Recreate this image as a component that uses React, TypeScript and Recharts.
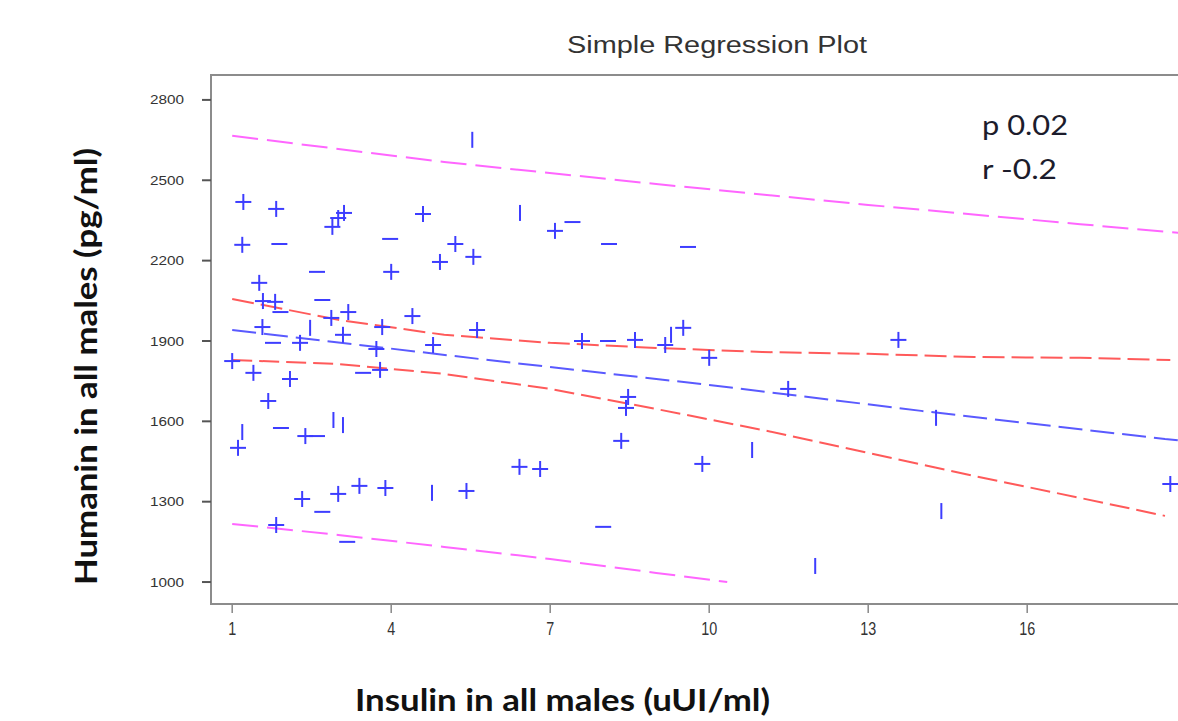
import React from 'react';
import { ComposedChart, XAxis, YAxis, Line, Scatter, ReferenceArea, Customized } from 'recharts';

// ---- axis ticks ----
const xTicks = [1, 4, 7, 10, 13, 16, 19];
const yTicks = [1000, 1300, 1600, 1900, 2200, 2500, 2800];

// ---- observations (insulin, humanin) ----
const plusPoints: [number, number][] = [
  [1.21, 2419], [1.83, 2393], [3.11, 2378], [3.0, 2359], [2.89, 2326], [4.6, 2374],
  [1.19, 2259], [5.21, 2262], [4.92, 2195], [5.55, 2214], [4.0, 2158], [1.51, 2117],
  [1.58, 2049], [1.81, 2046], [2.87, 1986], [3.19, 2008], [4.4, 1993], [3.83, 1952],
  [1.57, 1952], [3.09, 1923], [2.28, 1893], [3.72, 1870], [4.79, 1885], [5.62, 1941],
  [1.0, 1825], [1.4, 1781], [2.09, 1758], [1.68, 1676], [1.11, 1501], [2.38, 1545],
  [2.32, 1310], [3.0, 1329], [3.4, 1359], [3.89, 1351], [5.42, 1340], [1.83, 1213],
  [3.79, 1792], [7.6, 1900], [8.6, 1904], [9.17, 1885], [9.51, 1949], [10.0, 1837],
  [7.09, 2311], [8.47, 1691], [8.43, 1650], [8.34, 1527], [6.42, 1430], [6.81, 1422],
  [9.87, 1441], [11.49, 1721], [13.57, 1904], [18.7, 1366],
];
const dashPoints: [number, number][] = [
  [3.98, 2281], [1.89, 2262], [2.6, 2158], [2.7, 2053], [1.91, 2008], [1.77, 1893],
  [1.92, 1575], [2.6, 1545], [2.7, 1262], [3.17, 1150], [3.47, 1781], [7.42, 2344],
  [8.11, 2262], [9.6, 2251], [8.09, 1900], [8.0, 1206],
];
const barPoints: [number, number][] = [
  [5.53, 2651], [6.43, 2378], [2.47, 1949], [1.19, 1560], [2.91, 1605], [3.09, 1586],
  [4.77, 1333], [9.28, 1923], [10.81, 1493], [12.0, 1060], [14.38, 1265], [14.28, 1613],
];

// ---- fitted line and bands ----
const fitLine: [number, number][] = [[1, 1941], [6, 1825], [10, 1736], [14, 1639], [18.6, 1534], [19, 1527]];
const ciUpper: [number, number][] = [
  [1, 2057], [3, 1979], [5, 1923], [7, 1893], [9, 1874], [11, 1859], [13, 1852],
  [15, 1840], [17, 1837], [18.7, 1829],
];
const ciLower: [number, number][] = [
  [1, 1829], [3, 1814], [5, 1777], [7, 1721], [9, 1646], [11, 1568], [13, 1482],
  [15, 1396], [17, 1314], [18.6, 1247],
];
const piUpper: [number, number][] = [[1, 2666], [5, 2568], [9, 2486], [13, 2408], [17, 2336], [19, 2301]];
const piLower: [number, number][] = [[1, 1217], [3, 1176], [5, 1131], [7, 1086], [9, 1034], [10.34, 1000]];

const toObj = (pts: [number, number][]) => pts.map(([x, y]) => ({ x, y }));

const MARK = '#3d3dff';

const PlusShape = (p: any) => {
  const { cx, cy } = p;
  if (cx == null || cy == null) return null;
  return (
    <g>
      <line x1={cx - 8} x2={cx + 8} y1={cy} y2={cy} stroke={MARK} strokeWidth={2} />
      <line x1={cx} x2={cx} y1={cy - 8} y2={cy + 8} stroke={MARK} strokeWidth={2} />
    </g>
  );
};
const DashShape = (p: any) => {
  const { cx, cy } = p;
  if (cx == null || cy == null) return null;
  return <line x1={cx - 8} x2={cx + 8} y1={cy} y2={cy} stroke={MARK} strokeWidth={2} />;
};
const BarShape = (p: any) => {
  const { cx, cy } = p;
  if (cx == null || cy == null) return null;
  return <line x1={cx} x2={cx} y1={cy - 8} y2={cy + 8} stroke={MARK} strokeWidth={2} />;
};

const YTick = (p: any) => {
  const { x, y, payload } = p;
  const len = 34;
  return (
    <text x={x - len} y={y} dy="0.35em" fontFamily="'Liberation Sans', Arial, sans-serif" fontSize={13}
      fill="#333" textLength={len} lengthAdjust="spacingAndGlyphs">{String(payload.value)}</text>
  );
};
const XTick = (p: any) => {
  const { x, y, payload } = p;
  const s = String(payload.value);
  const len = s.length * 8;
  return (
    <text x={x - len / 2} y={y} dy="0.71em" fontFamily="'Liberation Sans', Arial, sans-serif" fontSize={19}
      fill="#333" textLength={len} lengthAdjust="spacingAndGlyphs">{s}</text>
  );
};

const Texts = () => (
  <g>
    <text x={559} y={45} fontFamily="'Liberation Sans', Arial, sans-serif" fontSize={23} fill="#333"
      textLength={300} lengthAdjust="spacingAndGlyphs">Simple Regression Plot</text>
    <text x={974} y={127} fontFamily="Lato, sans-serif" fontSize={26} fill="#1c1c2c"
      textLength={86} lengthAdjust="spacingAndGlyphs">p 0.02</text>
    <text x={974} y={171} fontFamily="Lato, sans-serif" fontSize={26} fill="#1c1c2c"
      textLength={75} lengthAdjust="spacingAndGlyphs">r -0.2</text>
    <text x={347} y={703} fontFamily="Lato, sans-serif" fontWeight="bold" fontSize={30} fill="#111"
      textLength={415} lengthAdjust="spacingAndGlyphs">Insulin in all males (uUI/ml)</text>
    <text transform="translate(89,577) rotate(-90)" x={0} y={0} fontFamily="Lato, sans-serif" fontWeight="bold"
      fontSize={30} fill="#111" textLength={437} lengthAdjust="spacingAndGlyphs">Humanin in all males (pg/ml)</text>
  </g>
);

export default function App() {
  return (
    <div style={{ position: 'fixed', left: 8, top: 8, width: 1170, height: 713, overflow: 'hidden', background: '#fff' }}>
      <ComposedChart width={1300} height={713} margin={{ top: 67, right: 90, bottom: 77, left: 143 }}>
        <XAxis type="number" dataKey="x" domain={[0.6, 19.6]} allowDataOverflow ticks={xTicks}
          axisLine={false} tickSize={9} tickMargin={9} height={40}
          tickLine={{ stroke: '#888', strokeWidth: 1.5 }} tick={<XTick />} interval={0} />
        <YAxis type="number" dataKey="y" domain={[918, 2893]} allowDataOverflow ticks={yTicks}
          axisLine={false} tickSize={9} tickMargin={18} width={60}
          tickLine={{ stroke: '#555', strokeWidth: 2 }} tick={<YTick />} interval={0} />
        <ReferenceArea x1={0.6} x2={19.6} y1={918} y2={2893} fill="none" fillOpacity={0}
          stroke="#8c8c8c" strokeWidth={2} ifOverflow="visible" />
        <Line data={toObj(piUpper)} dataKey="y" type="linear" stroke="#ff66ff" strokeWidth={2}
          strokeDasharray="26 9" dot={false} isAnimationActive={false} />
        <Line data={toObj(piLower)} dataKey="y" type="linear" stroke="#ff66ff" strokeWidth={2}
          strokeDasharray="26 9" dot={false} isAnimationActive={false} />
        <Line data={toObj(ciUpper)} dataKey="y" type="linear" stroke="#ff5a5a" strokeWidth={2}
          strokeDasharray="22 7" dot={false} isAnimationActive={false} />
        <Line data={toObj(ciLower)} dataKey="y" type="linear" stroke="#ff5a5a" strokeWidth={2}
          strokeDasharray="20 7" dot={false} isAnimationActive={false} />
        <Line data={toObj(fitLine)} dataKey="y" type="linear" stroke="#5a5aff" strokeWidth={2}
          strokeDasharray="24 8" dot={false} isAnimationActive={false} />
        <Scatter data={toObj(plusPoints)} dataKey="y" shape={<PlusShape />} isAnimationActive={false} />
        <Scatter data={toObj(dashPoints)} dataKey="y" shape={<DashShape />} isAnimationActive={false} />
        <Scatter data={toObj(barPoints)} dataKey="y" shape={<BarShape />} isAnimationActive={false} />
        <Customized component={Texts} />
      </ComposedChart>
    </div>
  );
}
